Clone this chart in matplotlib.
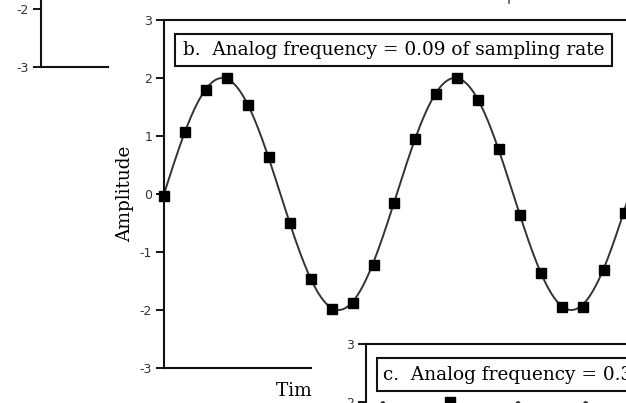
import numpy as np
import matplotlib
matplotlib.use("Agg")
import matplotlib.pyplot as plt
from matplotlib.patches import Rectangle
from matplotlib.lines import Line2D
from matplotlib.transforms import Bbox

# ---- data ----
yticks = [-3, -2, -1, 0, 1, 2, 3]
b_title = "b.  Analog frequency = 0.09 of sampling rate"
c_title = "c.  Analog frequency = 0.31 of sampling rate"
ylabel = "Amplitude"
xlabel = "Time (or sample number)"
b_freq = 0.09
c_freq = 0.31
amplitude = 2.0
b_samples = [-0.03, 1.07, 1.80, 2.00, 1.53, 0.63, -0.50, -1.46, -1.98, -1.88,
             -1.22, -0.16, 0.94, 1.73, 2.00, 1.62, 0.77, -0.36, -1.36, -1.95,
             -1.95, -1.31, -0.32, 0.80, 1.70]
c_samples = [0.0, 1.86, -0.72, -1.40, 2.00, -0.25, -1.98, 1.17, 1.20, -1.99]

W, H = 626, 403
fig = plt.figure(figsize=(W / 100, H / 100), dpi=100)
fig.patch.set_facecolor("white")

def fr(x0, y_top, w, h):
    """pixel box -> figure fraction [left, bottom, width, height]"""
    return [x0 / W, 1 - (y_top + h) / H, w / W, h / H]

PX_UNIT = 58.0   # pixels per amplitude unit
PX_SAMPLE = 20.95
NX = 30
SERIF = "DejaVu Serif"
SANS = "DejaVu Sans"
SPW = 1.5
FS = 13.3

def style_axes(ax):
    ax.set_ylim(-3, 3)
    ax.set_yticks(yticks)
    ax.set_yticklabels([str(t) for t in yticks], fontsize=9, family=SANS, color="#333333")
    ax.tick_params(axis="y", direction="out", length=5.5, width=1.3, pad=3)
    ax.tick_params(axis="x", bottom=False, labelbottom=False)
    for s in ax.spines.values():
        s.set_linewidth(SPW)
        s.set_color("#111111")

# ---- panel a (remnant) ----
ax_a = fig.add_axes(fr(41, 67 - 6 * PX_UNIT, 67, 6 * PX_UNIT))
style_axes(ax_a)
ax_a.set_xlim(0, 1)
ax_a.spines["right"].set_visible(False)
ax_a.spines["top"].set_visible(False)
ax_a.set_zorder(0)

# ---- panel b ----
ax_b = fig.add_axes(fr(164, 20, NX * PX_SAMPLE, 6 * PX_UNIT))
style_axes(ax_b)
ax_b.set_xlim(0, NX)
ax_b.set_zorder(1)
t = np.linspace(0, NX, 2000)
ax_b.plot(t, amplitude * np.sin(2 * np.pi * b_freq * t), color="#333333", lw=1.4, zorder=2)
nb = np.arange(len(b_samples))
ax_b.plot(nb, b_samples, ls="none", marker="s", ms=6.8, color="black", zorder=3, clip_on=False)
ax_b.set_ylabel(ylabel, family=SERIF, fontsize=FS, labelpad=4)

# ---- panel c ----
ax_c = fig.add_axes(fr(366, 344, NX * PX_SAMPLE, 6 * PX_UNIT))
style_axes(ax_c)
ax_c.set_xlim(0, NX)
ax_c.set_zorder(3)
ax_c.plot(t, amplitude * np.sin(2 * np.pi * c_freq * t), color="#333333", lw=1.4, zorder=2)
nc = np.arange(len(c_samples))
ax_c.plot(nc, c_samples, ls="none", marker="s", ms=6.8, color="black", zorder=3)

# x label of panel b (partially covered by panel c)
xl = fig.text(276 / W, 1 - 396 / H, xlabel, family=SERIF, fontsize=FS, ha="left",
              va="baseline", zorder=1.2)
xl.set_clip_box(Bbox.from_extents(0, 0, 312, H))

# white area of panel c covering panel b
fig.patches.append(Rectangle((312 / W, 0), 1 - 312 / W, 1 - 335 / H, transform=fig.transFigure,
                             facecolor="white", edgecolor="none", zorder=2))

# title boxes
def title_box(x0, y0, x1, y1, tx, text):
    fig.patches.append(Rectangle((x0 / W, 1 - y1 / H), (x1 - x0) / W, (y1 - y0) / H,
                                 transform=fig.transFigure, facecolor="white",
                                 edgecolor="#111111", lw=1.5, zorder=10))
    fig.text(tx / W, 1 - (y0 + y1) / 2 / H, text, family=SERIF, fontsize=FS,
             ha="left", va="center", zorder=11)

title_box(175, 34, 612, 66, 183, b_title)
title_box(377, 358, 700, 391, 383, c_title)

# tiny mark at the top edge from a panel above
fig.lines.append(Line2D([509 / W, 509 / W], [1, 1 - 3 / H], transform=fig.transFigure,
                        color="#555555", lw=1.2))

fig.savefig("out.png", dpi=100)
